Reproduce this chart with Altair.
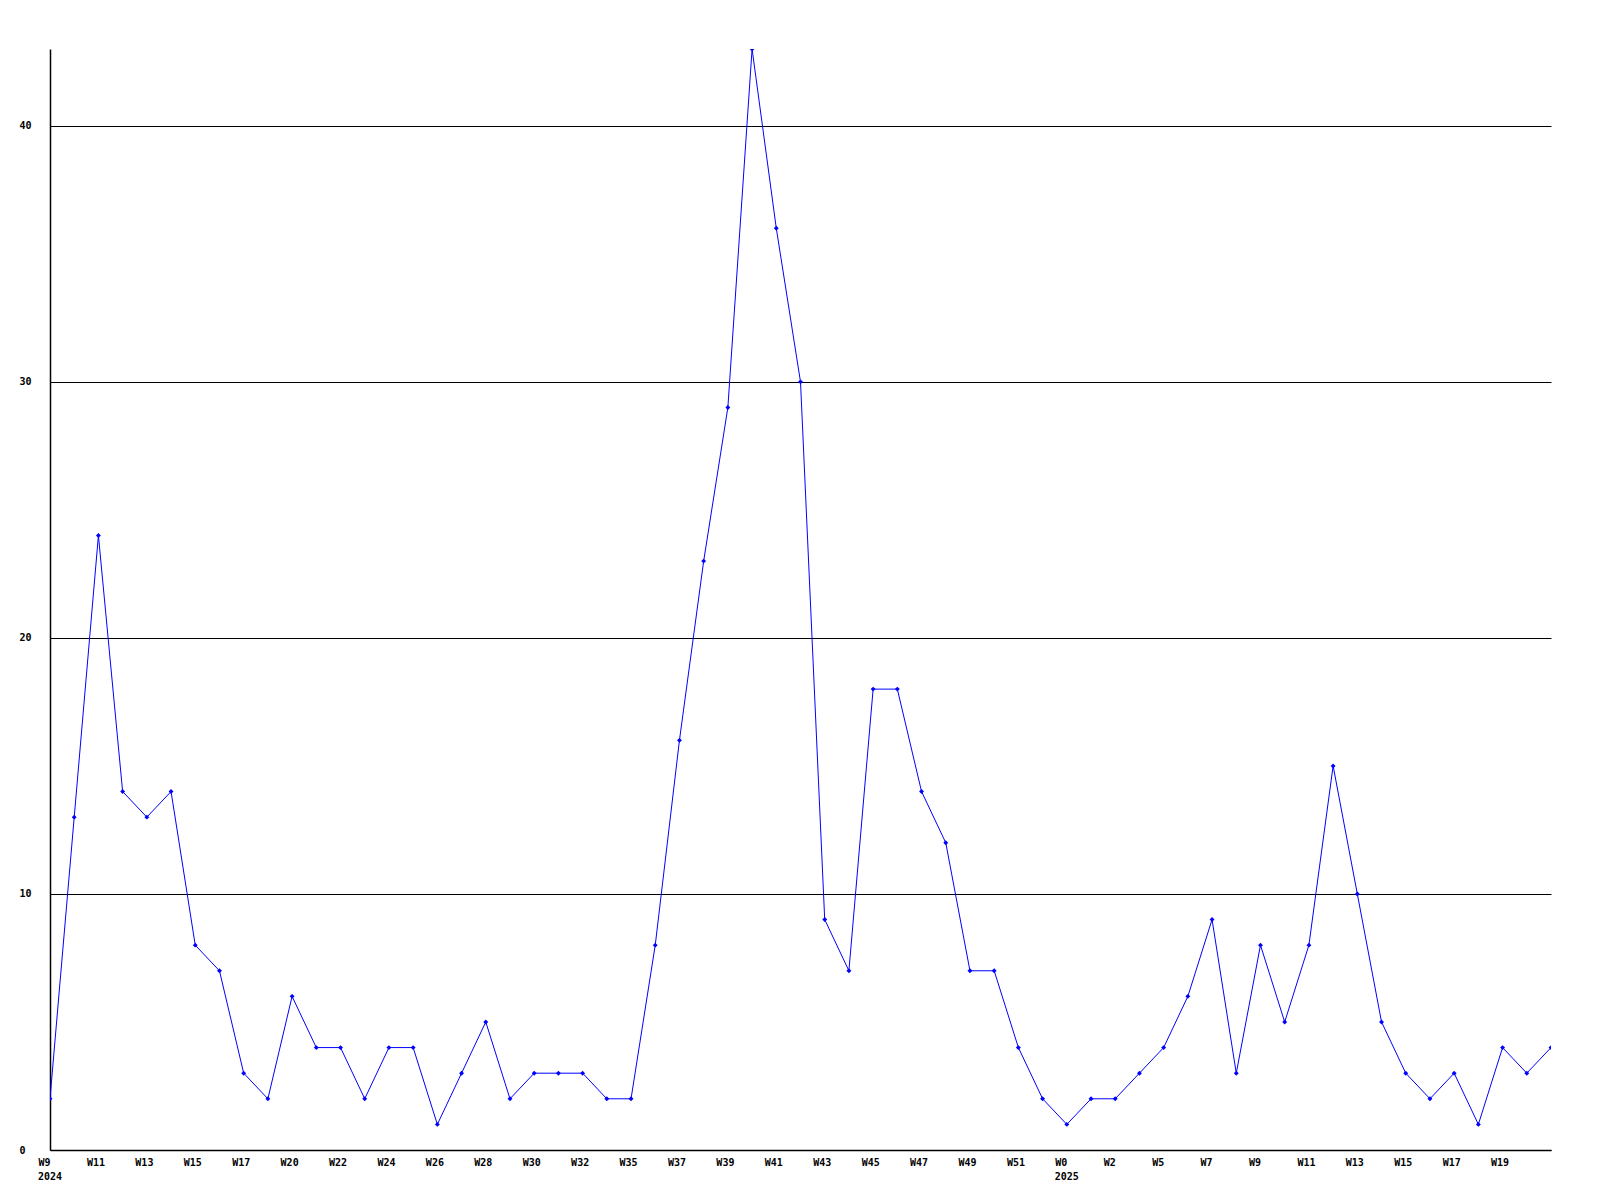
import altair as alt
import pandas as pd

values = [2, 13, 24, 14, 13, 14, 8, 7, 3, 2,
          6, 4, 4, 2, 4, 4, 1, 3, 5, 2,
          3, 3, 3, 2, 2, 8, 16, 23, 29, 43,
          36, 30, 9, 7, 18, 18, 14, 12, 7, 7,
          4, 2, 1, 2, 2, 3, 4, 6, 9, 3,
          8, 5, 8, 15, 10, 5, 3, 2, 3, 1,
          4, 3, 4]
tick_labels = ["W9", "W11", "W13", "W15", "W17", "W20", "W22", "W24", "W26", "W28",
               "W30", "W32", "W35", "W37", "W39", "W41", "W43", "W45", "W47", "W49",
               "W51", "W0", "W2", "W5", "W7", "W9", "W11", "W13", "W15", "W17", "W19"]
year_labels = ["2024", "2025"]
year_positions = [0, 42]

df = pd.DataFrame({"i": list(range(len(values))), "v": values})
tick_pos = [2 * k for k in range(len(tick_labels))]
label_map = "{" + ",".join(f"'{p}':'{l}'" for p, l in zip(tick_pos, tick_labels)) + "}"
years = pd.DataFrame({"i": year_positions, "t": year_labels})

FONT = "DejaVu Sans Mono"
W, H = 1501, 1101

x_scale = alt.Scale(domain=[0, len(values) - 1], nice=False, zero=False)
y_scale = alt.Scale(domain=[0, 43], nice=False)

base = alt.Chart(df)
line = base.mark_line(color="#0000ff", strokeWidth=1, clip=True).encode(
    x=alt.X("i:Q", scale=x_scale,
            axis=alt.Axis(values=tick_pos, labelExpr=f"{label_map}[datum.value]",
                          title=None, grid=False, ticks=False, domainColor="black",
                          domainWidth=1.5, labelAlign="left", labelOffset=-12,
                          labelPadding=7, labelFont=FONT, labelFontWeight="bold",
                          labelFontSize=10, labelColor="black", labelBaseline="top",
                          labelFlush=False, labelOverlap=False)),
    y=alt.Y("v:Q", scale=y_scale,
            axis=alt.Axis(values=[0, 10, 20, 30, 40], title=None, grid=True,
                          gridColor="black", gridOpacity=1, gridWidth=1, ticks=False,
                          domainColor="black", domainWidth=1.5, labelAlign="left",
                          labelPadding=31, labelFont=FONT, labelFontWeight="bold",
                          labelFontSize=10, labelColor="black", labelFlush=False)),
)
points = base.mark_point(shape="diamond", filled=True, color="#0000ff", size=24,
                         opacity=1, clip=True).encode(
    x=alt.X("i:Q", scale=x_scale), y=alt.Y("v:Q", scale=y_scale))

year_text = alt.Chart(years).mark_text(font=FONT, fontWeight="bold", fontSize=10,
                                       align="left", baseline="top", dx=-12,
                                       color="black").encode(
    x=alt.X("i:Q", scale=x_scale), y=alt.value(H + 22), text="t:N")

chart = alt.layer(line, points, year_text).properties(
    width=W, height=H,
    background="white",
    autosize=alt.AutoSizeParams(type="none"),
    padding={"left": 42, "top": 41, "right": 40, "bottom": 40},
).configure_view(stroke=None, strokeWidth=0)

chart.save("out.html", embed_options={"renderer": "svg", "actions": False})
